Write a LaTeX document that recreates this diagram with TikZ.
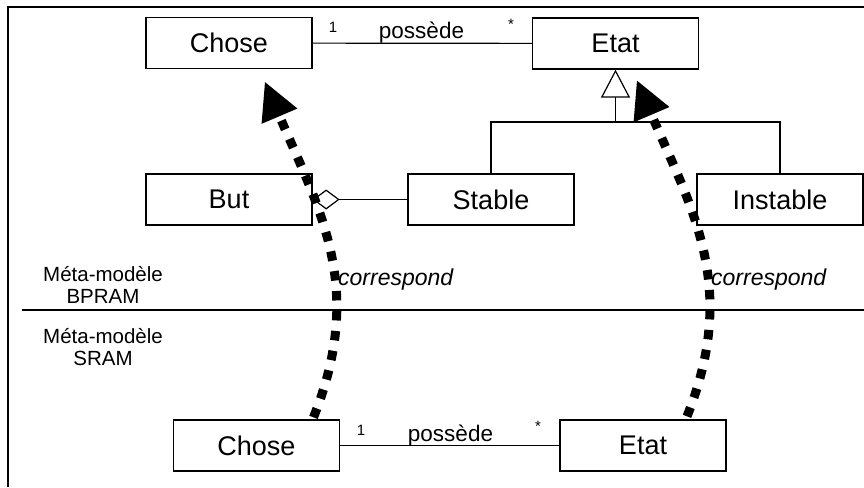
\documentclass[tikz,border=0pt]{standalone}
\usepackage{fontspec}
\setmainfont{Liberation Sans}
\usetikzlibrary{arrows.meta,calc}
\begin{document}
\begin{tikzpicture}[x=1pt,y=-1pt,
  cls/.style={draw,line width=1.3pt,minimum width=166pt,minimum height=51pt,inner sep=0pt,font=\fontsize{27}{30}\selectfont},
  lbl/.style={font=\fontsize{22.5}{26}\selectfont,inner sep=0pt},
  mult/.style={font=\fontsize{15}{18}\selectfont,inner sep=0pt},
  meta/.style={font=\fontsize{20.5}{22}\selectfont,align=center,inner sep=0pt},
  corrlbl/.style={font=\fontsize{23}{26}\selectfont\itshape,inner sep=0pt,anchor=base west},
  assoc/.style={line width=1.2pt},
  corr/.style={line width=9pt,dash pattern=on 9.5pt off 10.5pt,
    -{Triangle[length=37pt,width=39pt,line width=0pt]}}
]
\useasboundingbox (0,0) rectangle (864,487);
% frame
\draw[line width=2pt] (864,7) -- (8,7) -- (8,487);
% separator
\draw[line width=1.2pt] (22,310) -- (864,310);

% classes
\node[cls] (chose1) at (229,43) {Chose};
\node[cls] (etat1) at (615.5,43.5) {Etat};
\node[cls] (but) at (229,199.5) {But};
\node[cls] (stable) at (491,199.5) {Stable};
\node[cls] (instable) at (780,199.5) {Instable};
\node[cls] (chose2) at (256.5,445.5) {Chose};
\node[cls] (etat2) at (643,445.5) {Etat};

% associations
\draw[assoc] (chose1) -- (etat1);
\node[mult] (m1a) at (333,27) {1};
\node[lbl,anchor=base] (pos1) at (421.5,38.5) {possède};
\node[mult] (m1b) at (511,24) {*};

\draw[assoc] (chose2) -- (etat2);
\node[mult] (m2a) at (361,430) {1};
\node[lbl,anchor=base] (pos2) at (450.5,441.5) {possède};
\node[mult] (m2b) at (538,426) {*};

% generalisation
\coordinate (gbar) at (615.5,122);
\draw[assoc] (stable.north) |- (gbar) -| (instable.north);
\draw[assoc,-{Triangle[open,length=28pt,width=29pt]}] (gbar) -- (etat1.south);

% aggregation
\draw[assoc,{Diamond[open,length=27pt,width=20pt]}-] (but.east) -- (stable.west);

% meta labels
\node[meta] (bpram) at (103,285) {Méta-modèle\\BPRAM};
\node[meta] (sram) at (103,347) {Méta-modèle\\SRAM};

% correspondences
\draw[corr] ([xshift=57pt,yshift=2pt]chose2.north) .. controls +(52,-130) and +(55,129) .. ([xshift=36pt,yshift=-13pt]chose1.south);
\draw[corr] ([xshift=44pt,yshift=3pt]etat2.north) .. controls +(52,-130) and +(55,129) .. ([xshift=21.5pt,yshift=-11pt]etat1.south);
\node[corrlbl] (c1) at (338,285) {correspond};
\node[corrlbl] (c2) at (711,285) {correspond};
\end{tikzpicture}
\end{document}
